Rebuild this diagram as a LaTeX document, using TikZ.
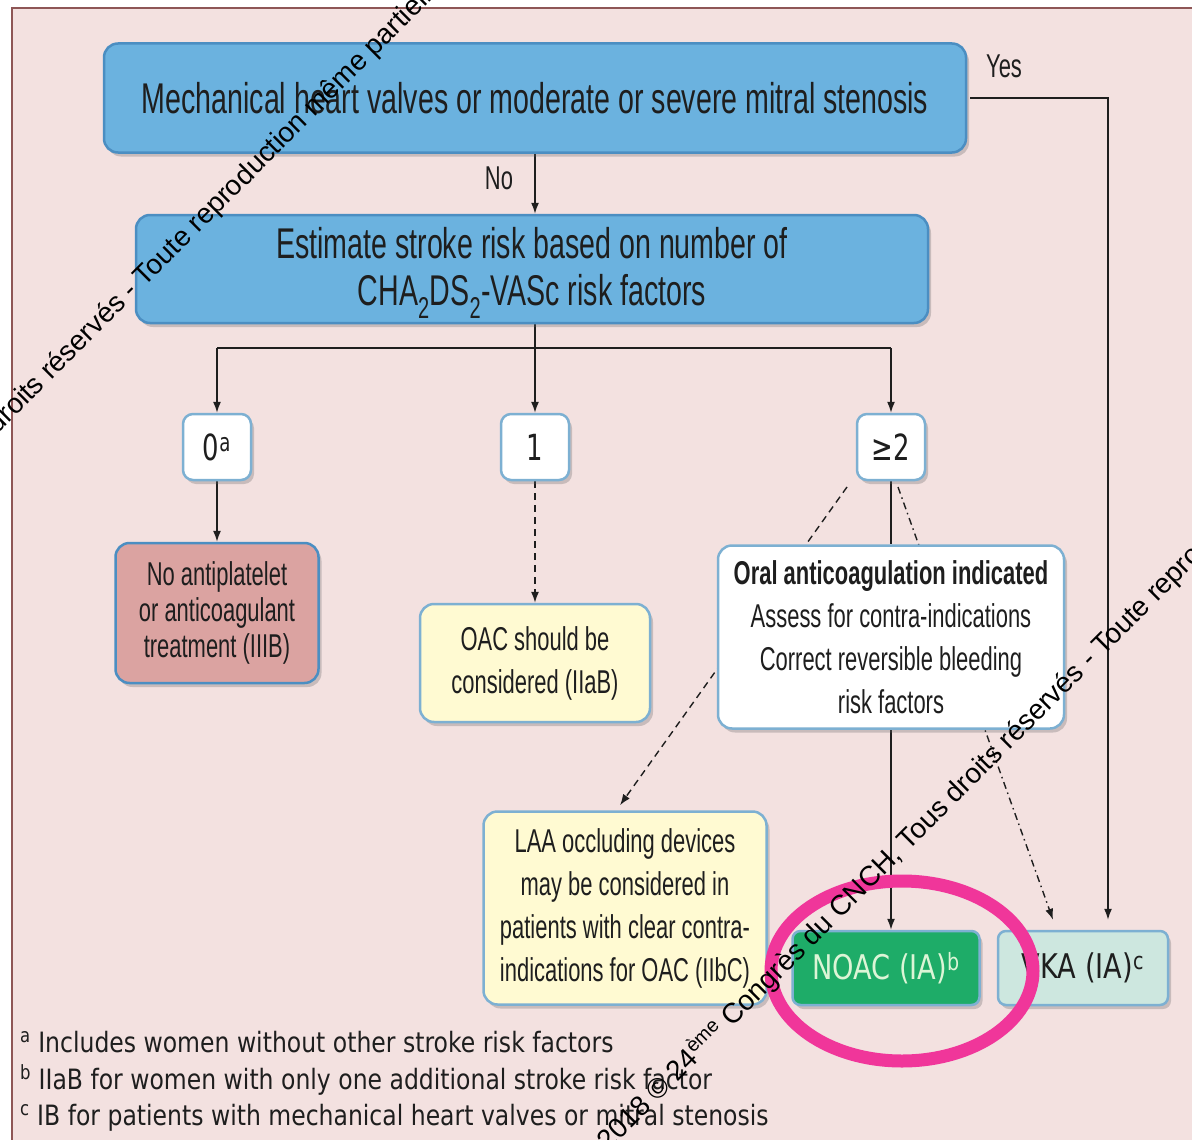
\documentclass[tikz,border=0pt]{standalone}
\usepackage{fontspec}
\usetikzlibrary{arrows.meta,shadows,calc}
\setmainfont{Liberation Sans}
\newfontfamily\narrowsans[FakeStretch=0.665]{Liberation Sans}
\newfontfamily\numsans[FakeStretch=0.72]{DejaVu Sans}
\newfontfamily\drugsans[FakeStretch=0.8]{DejaVu Sans}
\newfontfamily\notesans[FakeStretch=0.84]{DejaVu Sans}
\newfontfamily\stampfont{Liberation Sans}

\definecolor{pagebg}{HTML}{F3E1E0}
\definecolor{framecol}{HTML}{8E5656}
\definecolor{bluefill}{HTML}{6BB2DF}
\definecolor{blueedge}{HTML}{4B8EC2}
\definecolor{softedge}{HTML}{7DB0D2}
\definecolor{redfill}{HTML}{DBA3A1}
\definecolor{yellowfill}{HTML}{FFFAD2}
\definecolor{greenfill}{HTML}{1EAC68}
\definecolor{greentext}{HTML}{DCF5D6}
\definecolor{tealfill}{HTML}{CDE7DF}
\definecolor{ringpink}{HTML}{F0369A}
\definecolor{inkgray}{HTML}{1E1E1E}

\pgfdeclarelayer{paper}
\pgfdeclarelayer{wires}
\pgfsetlayers{paper,wires,main}

\begin{document}
\begin{tikzpicture}[x=1pt,y=-1pt,
  box/.style={rounded corners=14pt, draw=blueedge, line width=2.5pt,
    drop shadow={shadow xshift=3pt, shadow yshift=-4pt, opacity=0.3, fill=black!60},
    align=center, inner sep=0pt, text=inkgray},
  bigbox/.style={box, fill=bluefill, font=\narrowsans\fontsize{43}{47}\selectfont},
  smalltext/.style={font=\narrowsans\fontsize{33}{43}\selectfont},
  numbox/.style={box, rounded corners=10pt, draw=softedge, fill=white,
    minimum width=68pt, minimum height=66pt, font=\numsans\fontsize{36}{40}\selectfont},
  drugbox/.style={box, rounded corners=8pt, draw=softedge, minimum height=74pt,
    font=\drugsans\fontsize{34}{38}\selectfont},
  lab/.style={inner sep=0pt, text=inkgray, font=\narrowsans\fontsize{33}{36}\selectfont},
  note/.style={inner sep=0pt, anchor=base west, text=inkgray, font=\notesans\fontsize{28}{30}\selectfont},
  stamp/.style={inner sep=0pt, anchor=base west, text=black, font=\stampfont\fontsize{28}{30}\selectfont},
  wire/.style={draw=inkgray, line width=1.4pt},
  arr/.style={wire, -{Latex[length=11pt,width=8pt]}},
  dashedline/.style={dash pattern=on 7pt off 5pt},
  dashdotline/.style={dash pattern=on 7pt off 4pt on 1.5pt off 4pt}]

\useasboundingbox (0,0) rectangle (1192,1140);

% paper and frame
\begin{pgfonlayer}{paper}
  \fill[white] (0,0) rectangle (1192,1140);
  \fill[pagebg] (12,8) rectangle (1192,1140);
  \draw[framecol, line width=1.5pt] (12,1140) -- (12,8) -- (1192,8);
\end{pgfonlayer}

% decision boxes
\node[bigbox, minimum width=862pt, minimum height=109pt] (top) at (535,98)
  {Mechanical heart valves or moderate or severe mitral stenosis};
\node[bigbox, minimum width=792pt, minimum height=108pt] (est) at (532,269)
  {\raisebox{-4pt}[\height][\depth]{\begin{tabular}{@{}c@{}}Estimate stroke risk based on number of\\CHA\textsubscript{2}DS\textsubscript{2}-VASc risk factors\end{tabular}}};

% score boxes
\node[numbox] (n0) at (217,447) {0\textsuperscript{a}};
\node[numbox] (n1) at (535,447) {1};
\node[numbox] (n2) at (891,447) {≥2};

% recommendation boxes
\node[box, smalltext, fill=redfill, minimum width=203pt, minimum height=140pt,
  font=\narrowsans\fontsize{33}{36}\selectfont] (noap) at (217,613)
  {No antiplatelet\\or anticoagulant\\treatment (IIIB)};
\node[box, smalltext, draw=softedge, fill=yellowfill, minimum width=230pt, minimum height=118pt] (oac) at (535,663)
  {OAC should be\\considered (IIaB)};
\node[box, smalltext, draw=softedge, fill=white, minimum width=346pt, minimum height=183pt] (oral) at (891,637)
  {\textbf{Oral anticoagulation indicated}\\Assess for contra-indications\\Correct reversible bleeding\\risk factors};
\node[box, smalltext, draw=softedge, fill=yellowfill, minimum width=283pt, minimum height=193pt] (laa) at (625,908)
  {LAA occluding devices\\may be considered in\\patients with clear contra-\\indications for OAC (IIbC)};
\node[drugbox, fill=greenfill, text=greentext, minimum width=187pt] (noac) at (886,968)
  {NOAC (IA)\textsuperscript{b}};
\node[drugbox, fill=tealfill, minimum width=170pt] (vka) at (1083,968)
  {VKA (IA)\textsuperscript{c}};

% branch labels
\node[lab] (yes) at (1004,66) {Yes};
\node[lab] (no) at (499,178) {No};

% connectors
\begin{pgfonlayer}{wires}
  \draw[arr] (top.south -| n1) -- (est.north -| n1);
  \coordinate (bus) at (535,348);
  \draw[wire] (est.south -| n1) -- (bus);
  \draw[wire] (bus -| n0) -- (bus -| n2);
  \draw[arr] (bus -| n0) -- (n0.north);
  \draw[arr] (bus) -- (n1.north);
  \draw[arr] (bus -| n2) -- (n2.north);
  \draw[arr] (n0.south) -- (noap.north);
  \draw[arr, dashedline] (n1.south) -- (oac.north);
  \draw[wire] (n2.south) -- (oral.north);
  \draw[arr] (oral.south) -- (oral.south |- noac.north);
  \coordinate (fanL) at (847,487);
  \coordinate (fanR) at (898,487);
  \draw[arr, dashedline] (fanL) -- ([xshift=-5pt,yshift=5pt]laa.north);
  \draw[arr, dashdotline] (fanR) -- ([xshift=-30pt,yshift=10pt]vka.north);
  \draw[arr] ([xshift=3pt]top.east) -| ([xshift=25pt,yshift=10pt]vka.north);
\end{pgfonlayer}

% footnotes
\node[note] (fa) at (20,1052) {\textsuperscript{a} Includes women without other stroke risk factors};
\node[note] (fb) at (20,1089) {\textsuperscript{b} IIaB for women with only one additional stroke risk factor};
\node[note] (fc) at (20,1125) {\textsuperscript{c} IB for patients with mechanical heart valves or mitral stenosis};

% highlight ring
\draw[ringpink, line width=13pt] (902,971) ellipse [x radius=131pt, y radius=90pt];

% copyright stamps
\begin{scope}
  \clip (0,0) rectangle (1192,1140);
  \node[stamp, rotate=45] (wmA) at (-50,482)
    {Tous droits réservés - Toute reproduction même partielle interdite};
  \node[stamp, rotate=45] (wmB) at (608,1152)
    {2018 © 24\textsuperscript{ème} Congrès du CNCH, Tous droits réservés - Toute reproduction même partielle interdite};
\end{scope}
\end{tikzpicture}
\end{document}
